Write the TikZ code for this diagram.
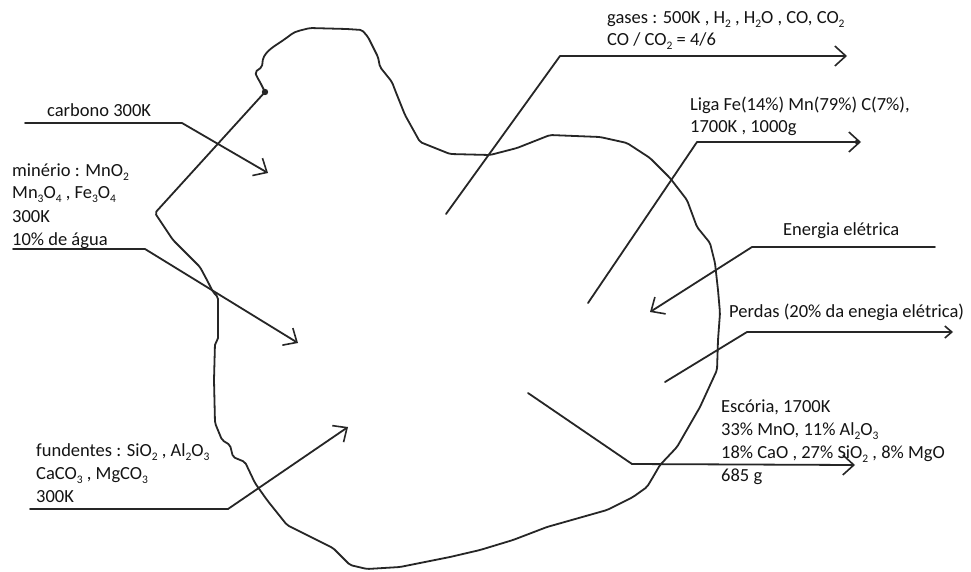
\documentclass[tikz,border=0pt]{standalone}
\usepackage{fontspec}
\setmainfont{Carlito}
\usetikzlibrary{arrows.meta}
% lowered, smaller chemical subscripts
\newcommand\chsub[1]{\raisebox{-4.5pt}{\fontsize{11.5}{11.5}\selectfont #1}}
\begin{document}
\begin{tikzpicture}[x=1pt,y=-1pt,
  sketch/.style={line width=1.8pt,color=black!85,line join=round,line cap=round},
  flow/.style={sketch,-{Straight Barb[length=11pt,width=20pt,line width=1.6pt]}},
  smallflow/.style={sketch,-{Straight Barb[length=7pt,width=12pt,line width=1.6pt]}},
  lbl/.style={anchor=base west,inner sep=0pt,text=black!92,font=\fontsize{18.5}{22.5}\selectfont}]
\useasboundingbox[fill=white] (0,0) rectangle (971,571);

% hand-drawn furnace outline
\draw[sketch,rounded corners=2pt] (265,92) -- (260,82) -- (257,77) -- (255,72) -- (262,67) -- (263,58)
  -- (267,52) -- (273,47) -- (285,39) -- (293,33) -- (298,31) -- (310,28) -- (347,29) -- (362,30)
  -- (368,37) -- (378,57) -- (380,67) -- (392,82) -- (395,90) -- (405,115) -- (420,142) -- (450,154)
  -- (490,155) -- (517,148) -- (550,135) -- (600,137) -- (627,143) -- (650,158) -- (670,178)
  -- (687,200) -- (697,227) -- (710,243) -- (715,263) -- (718,290) -- (720,313) -- (718,340)
  -- (717,370) -- (700,407) -- (677,447) -- (660,465) -- (653,477) -- (647,487) -- (633,497)
  -- (607,510) -- (547,527) -- (513,540) -- (480,550) -- (450,557) -- (400,567) -- (367,569)
  -- (350,565) -- (333,548) -- (317,540) -- (287,525) -- (267,500) -- (255,483) -- (245,462)
  -- (233,457) -- (230,445) -- (222,440) -- (215,423) -- (214,380) -- (215,343) -- (218,340)
  -- (218,297) -- (213,292) -- (208,282) -- (200,267) -- (173,240) -- (155,213) -- cycle;
\fill[black!85] (265,92) circle (3.2);

% named ends of the flow lines
\coordinate (cIn)  at (25,123);   \coordinate (cBend) at (182,123);  \coordinate (cTip) at (268,173);
\coordinate (mIn)  at (13,249);   \coordinate (mBend) at (145,249);  \coordinate (mTip) at (298,343);
\coordinate (fIn)  at (30,509);   \coordinate (fBend) at (228,509);  \coordinate (fTip) at (348,427);
\coordinate (gSrc) at (446,214);  \coordinate (gBend) at (560,56);   \coordinate (gTip) at (847,56);
\coordinate (lSrc) at (588,303);  \coordinate (lBend) at (697,142);  \coordinate (lTip) at (861,142);
\coordinate (eIn)  at (935,247);  \coordinate (eBend) at (752,247);  \coordinate (eTip) at (650,312);
\coordinate (pSrc) at (665,382);  \coordinate (pBend) at (747,332);  \coordinate (pTip) at (953,332);
\coordinate (sSrc) at (528,393);  \coordinate (sBend) at (632,464);  \coordinate (sTip) at (855,465);

% inputs
\draw[flow] (cIn) -- (cBend) -- (cTip);
\draw[flow] (mIn) -- (mBend) -- (mTip);
\draw[flow] (fIn) -- (fBend) -- (fTip);
\draw[flow] (eIn) -- (eBend) -- (eTip);
% outputs
\draw[flow] (gSrc) -- (gBend) -- (gTip);
\draw[flow] (lSrc) -- (lBend) -- (lTip);
\fill[black!85] (857,142) circle (2.2);
\draw[smallflow] (pSrc) -- (pBend) -- (pTip);
\draw[flow] (sSrc) -- (sBend) -- (sTip);

% labels
\node[lbl] (carb) at (47,116) {carbono 300K};

\node[lbl] (min1) at (12,176) {minério : MnO\chsub{2}};
\node[lbl] (min2) at (12,198) {Mn\chsub{3}O\chsub{4} , Fe\chsub{3}O\chsub{4}};
\node[lbl] (min3) at (12,222) {300K};
\node[lbl] (min4) at (12,245) {10\% de água};

\node[lbl] (fun1) at (36,456) {fundentes : SiO\chsub{2} , Al\chsub{2}O\chsub{3}};
\node[lbl] (fun2) at (36,479) {CaCO\chsub{3} , MgCO\chsub{3}};
\node[lbl] (fun3) at (36,502) {300K};

\node[lbl] (gas1) at (607,23) {gases : 500K , H\chsub{2} , H\chsub{2}O , CO, CO\chsub{2}};
\node[lbl] (gas2) at (607,45) {CO / CO\chsub{2} = 4/6};

\node[lbl] (liga1) at (690,110) {Liga Fe(14\%) Mn(79\%) C(7\%),};
\node[lbl] (liga2) at (690,132) {1700K , 1000g};

\node[lbl] (ener) at (783,235) {Energia elétrica};
\node[lbl] (perd) at (729,317) {Perdas (20\% da enegia elétrica)};

\node[lbl] (esc1) at (721,412) {Escória, 1700K};
\node[lbl] (esc2) at (721,435) {33\% MnO, 11\% Al\chsub{2}O\chsub{3}};
\node[lbl] (esc3) at (721,458) {18\% CaO , 27\% SiO\chsub{2} , 8\% MgO};
\node[lbl] (esc4) at (721,481) {685 g};
\end{tikzpicture}
\end{document}
